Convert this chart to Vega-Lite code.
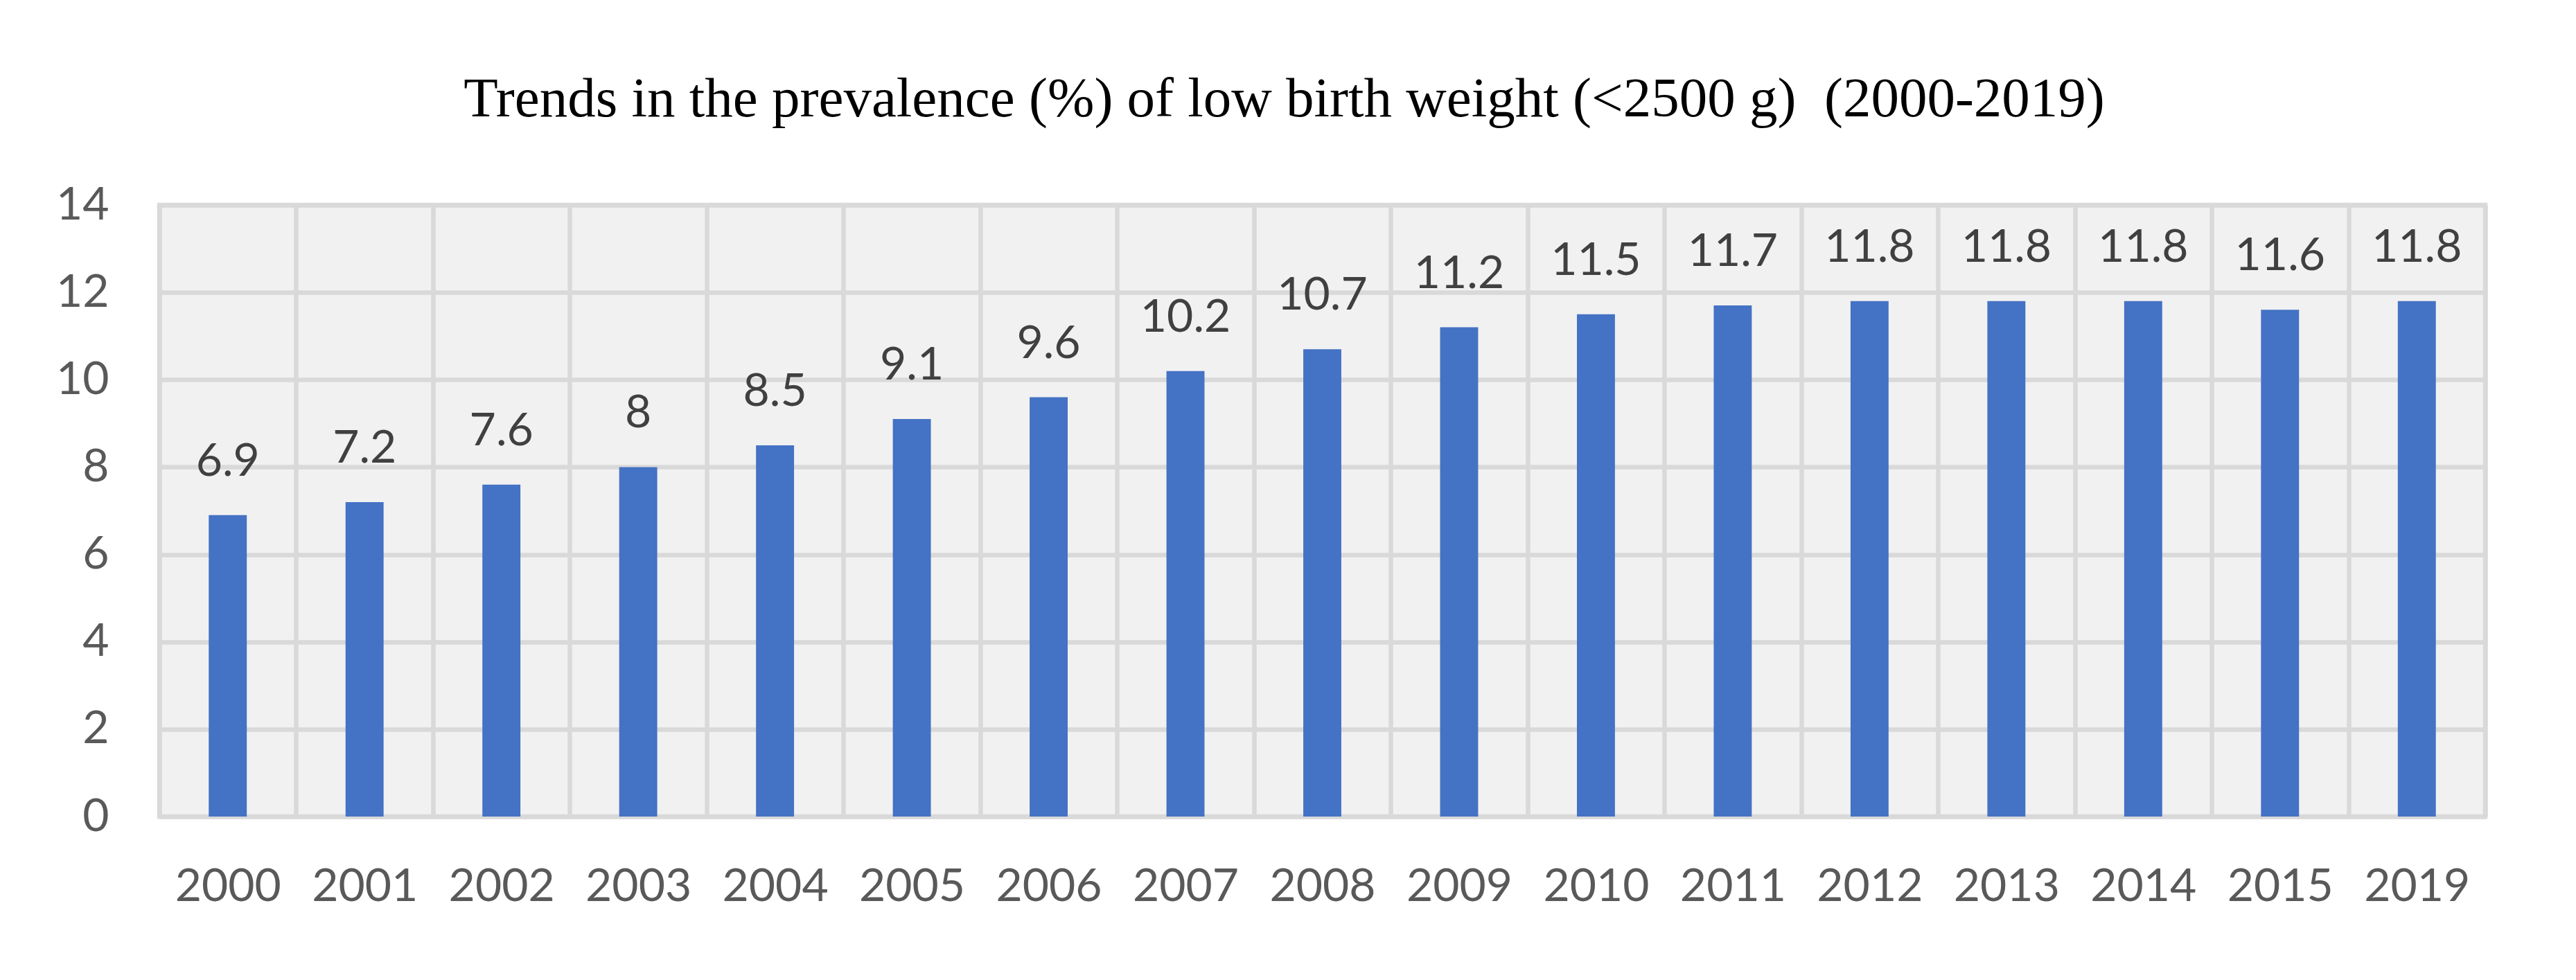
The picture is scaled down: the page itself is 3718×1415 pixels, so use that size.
{
  "$schema": "https://vega.github.io/schema/vega-lite/v6.json",
  "width": 3357,
  "height": 883,
  "autosize": {"type": "none"},
  "padding": {"left": 230, "top": 296, "right": 131, "bottom": 236},
  "background": "white",
  "title": {
    "text": "Trends in the prevalence (%) of low birth weight (<2500 g)\u00a0 (2000-2019)",
    "font": "Liberation Serif",
    "fontSize": 81,
    "fontWeight": "normal",
    "color": "#000000",
    "anchor": "middle",
    "frame": "group",
    "dx": -55,
    "baseline": "alphabetic",
    "offset": 14
  },
  "data": {
    "values": [
      {"year": "2000", "value": 6.9},
      {"year": "2001", "value": 7.2},
      {"year": "2002", "value": 7.6},
      {"year": "2003", "value": 8},
      {"year": "2004", "value": 8.5},
      {"year": "2005", "value": 9.1},
      {"year": "2006", "value": 9.6},
      {"year": "2007", "value": 10.2},
      {"year": "2008", "value": 10.7},
      {"year": "2009", "value": 11.2},
      {"year": "2010", "value": 11.5},
      {"year": "2011", "value": 11.7},
      {"year": "2012", "value": 11.8},
      {"year": "2013", "value": 11.8},
      {"year": "2014", "value": 11.8},
      {"year": "2015", "value": 11.6},
      {"year": "2019", "value": 11.8}
    ]
  },
  "encoding": {
    "x": {
      "field": "year",
      "type": "ordinal",
      "sort": null,
      "scale": {"paddingInner": 0, "paddingOuter": 0},
      "axis": {
        "title": null,
        "labelAngle": 0,
        "labelFont": "Lato",
        "labelFontSize": 66,
        "labelColor": "#595959",
        "labelPadding": 69,
        "ticks": false,
        "tickSize": 0,
        "domain": false,
        "grid": true,
        "gridColor": "#d9d9d9",
        "gridWidth": 6.5,
        "tickBand": "extent"
      }
    },
    "y": {
      "field": "value",
      "type": "quantitative",
      "scale": {"domain": [0, 14], "nice": false},
      "axis": {
        "title": null,
        "values": [0, 2, 4, 6, 8, 10, 12, 14],
        "labelFont": "Lato",
        "labelFontSize": 66,
        "labelColor": "#595959",
        "labelPadding": 73,
        "ticks": false,
        "tickSize": 0,
        "domain": false,
        "grid": true,
        "gridColor": "#d9d9d9",
        "gridWidth": 6.5
      }
    }
  },
  "layer": [
    {
      "mark": {"type": "bar", "color": "#4472C4", "width": {"band": 0.278}}
    },
    {
      "mark": {
        "type": "text",
        "font": "Lato",
        "fontSize": 66,
        "color": "#404040",
        "baseline": "alphabetic",
        "dy": -57
      },
      "encoding": {
        "text": {"field": "value", "type": "quantitative"}
      }
    }
  ],
  "config": {
    "view": {"fill": "#f1f1f1", "stroke": "#d9d9d9", "strokeWidth": 6.5}
  }
}
